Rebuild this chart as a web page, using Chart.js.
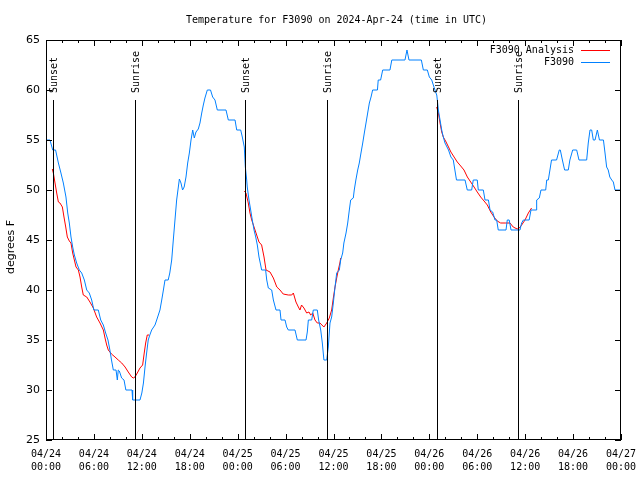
<!DOCTYPE html>
<html>
<head>
<meta charset="utf-8">
<script src="https://cdn.jsdelivr.net/npm/chart.js@4"></script>
<style>
  body { margin: 0; background: #fff; }
  canvas { display: block; }
</style>
</head>
<body>
<canvas id="chart" width="640" height="480"></canvas>
<script>
// --- data (hours since 04/24 00:00 UTC, degrees F) ---
const blueHours = [0,0.5,0.84,1.2,1.55,1.84,2.17,2.5,2.72,2.92,3.13,3.34,3.55,3.84,4.17,4.47,4.8,5.1,5.42,5.72,6.0,6.55,6.85,7.18,7.47,7.76,8.0,8.2,8.43,8.77,8.93,9.05,9.18,9.47,9.77,10.0,10.77,10.85,11.77,12.0,12.2,12.4,12.6,12.8,13.0,13.23,13.65,13.86,14.27,14.49,14.7,14.9,15.3,15.5,15.74,15.94,16.15,16.36,16.57,16.7,16.9,17.1,17.3,17.53,17.74,17.95,18.16,18.37,18.57,18.78,19.07,19.28,19.5,19.7,19.9,20.2,20.6,20.87,21.16,21.45,22.54,22.83,23.67,23.88,24.38,24.58,24.83,24.96,25.13,25.2,25.42,25.63,25.83,26.05,26.26,26.46,26.67,26.88,27.0,27.5,27.64,27.84,28.26,28.47,28.8,29.3,29.43,29.93,30.14,30.34,31.18,31.47,32.56,32.72,32.85,33.27,33.47,33.97,34.14,34.4,34.6,34.8,35.15,35.35,35.56,35.77,35.98,36.19,36.4,36.73,36.9,37.15,37.3,37.57,37.78,37.98,38.15,38.48,38.6,38.8,39.03,39.23,39.44,39.66,39.86,40.07,40.28,40.49,40.7,40.9,41.5,41.6,41.9,42.16,43.07,43.3,44.95,45.2,45.45,47.0,47.25,47.75,48.0,48.3,48.58,48.83,48.93,49.0,49.13,49.34,49.55,49.75,49.96,50.4,50.7,51.0,51.2,51.4,52.47,52.75,53.3,53.5,54.0,54.13,54.76,54.97,55.4,55.6,55.93,56.22,56.43,56.63,57.6,57.76,58.0,58.23,59.35,59.56,59.77,60.5,60.73,61.36,61.44,61.77,61.98,62.57,62.7,62.9,63.1,63.3,63.93,64.27,64.4,64.66,64.94,65.4,65.6,65.95,66.45,66.74,67.7,67.9,68.12,68.33,68.53,68.75,69.04,69.3,69.8,70.0,70.2,70.4,70.6,70.84,71.04,71.25,72];
const blueTemps = [55,55,54,54,52.7,51.8,50.7,49.3,47.7,46.7,45.3,44.3,43.5,42.7,42,41.7,41,40,39.7,39,38,38,37,36.5,35.7,35,34,33,32,32,31,32,31.9,31.2,31,30,30,29,29,29.7,30.7,32.3,33.7,35,35.5,36,36.5,37,38,39,40,41,41,41.7,43,45,47,49,50.3,51.1,50.7,50,50.3,51.3,52.7,53.7,55,56,55.2,55.8,56.1,56.7,57.7,58.5,59.2,60,60,59.3,59,58,58,57,57,56,56,55.3,54.3,52.3,51,50.3,49,48,47,46,45.3,44.5,43.3,42.5,42,42,41,40.2,40,39,38,38,37,37,36.3,36,36,35,35,35.8,37,37,38,38,37,36,34.7,33,33,34.3,36.7,37.3,38.7,40.3,41.7,42,43,43.7,44.7,45.7,46.7,48,49,49.2,50,51,52,52.7,53.7,54.7,55.7,56.7,57.7,58.7,59.3,60,60,61,61,62,62,63,63,64,63,63,62,62,61.3,61,60.3,59.7,59.5,59,58,57,56,55.3,54.7,54,53.3,53,52,51,51,50,50,51,51,50,50,49,49,48,47.8,47,47,46,46,47,47,46,46,46.7,47,47,48,48,49,49.2,50,50,51,51,52,53,53,54,54,53,52,52,53,54,54,53,53,54.7,56,56,55,55,56,55,55,53.7,52.3,52,51.3,51,50.8,50,50];

// analysis series, null marks the gaps between the three night segments
const redHours = [0.79,0.92,1.13,1.34,1.55,1.75,2.05,2.25,2.47,2.67,2.92,3.13,3.34,3.55,3.76,4.05,4.26,4.47,4.67,5.1,5.5,5.93,6.34,6.76,7.18,7.39,7.6,7.8,8.2,8.64,9.05,9.48,9.9,10.3,10.73,10.93,11.14,11.43,11.77,12.1,12.3,12.48,12.68,12.9,
  18,
  24.83,25.04,25.33,25.54,25.76,26.05,26.38,26.67,27.0,27.3,27.55,28.05,28.47,28.9,29.3,29.7,30.34,30.77,30.97,31.3,31.6,31.8,32.0,32.3,32.64,32.93,33.14,33.4,33.68,33.97,34.3,34.8,35.15,35.47,35.77,35.98,36.19,36.4,36.6,36.8,36.9,
  42,
  48.92,49.13,49.34,49.55,49.75,50.1,50.4,50.7,51.1,51.5,51.93,52.34,52.76,53.18,53.6,54.0,54.43,54.85,55.26,55.69,56.1,56.5,56.93,57.5,58.1,58.5,59.0,59.27,59.56,59.98,60.4,60.8];
const redTemps = [52.1,51.7,50.7,49.7,48.8,48.7,48.3,47.3,46.3,45.3,44.9,44.7,43.7,43,42.3,42,41.3,40.3,39.5,39.3,38.8,38.2,37.3,36.7,36,35.2,34.5,34,33.6,33.3,33,32.7,32.3,31.8,31.3,31.2,31.3,31.7,32.2,32.5,33.7,34.7,35.5,35.5,
  null,
  49.9,49.7,48.7,47.7,47,46.3,45.5,44.8,44.5,43.3,42,41.8,41.2,40.3,40,39.6,39.5,39.5,39.7,38.8,38.3,38,38.5,38.2,37.7,37.8,37.5,37.7,37,36.7,36.7,36.3,36.7,37.2,38,39.2,40.3,41.2,42,42.7,43.2,
  null,
  58.3,57.7,56.7,55.8,55.3,54.8,54.3,53.8,53.3,52.8,52.4,52,51.3,50.8,50.3,49.8,49.3,48.9,48.5,47.8,47.3,46.9,46.7,46.7,46.7,46.3,46.1,46.2,46.5,47,47.7,48.2];

const eventHours = [0.92, 11.18, 24.96, 35.23, 49.0, 59.14];
const eventLabels = ['Sunset', 'Sunrise', 'Sunset', 'Sunrise', 'Sunset', 'Sunrise'];
const dayLabels = ['04/24', '04/25', '04/26', '04/27'];
const timeLabels = ['00:00', '06:00', '12:00', '18:00'];
const seriesNames = ['F3090 Analysis', 'F3090'];
const seriesColors = ['#ff0000', '#0080ff'];

const MONO = '10px "DejaVu Sans Mono", "Liberation Mono", monospace';
const SANS = '11px "DejaVu Sans", "Liberation Sans", sans-serif';

// gnuplot-ish frame, inward ticks, sun events, legend and titles
const decorations = {
  id: 'decorations',
  afterDatasetsDraw(chart) {
    const ctx = chart.ctx;
    const { left, right, top, bottom } = chart.chartArea;
    const xs = chart.scales.x, ys = chart.scales.y;
    ctx.save();
    ctx.strokeStyle = '#000';
    ctx.lineWidth = 1;

    // sunset / sunrise markers
    ctx.fillStyle = '#000';
    ctx.font = MONO;
    eventHours.forEach((h, i) => {
      const px = Math.round(xs.getPixelForValue(h)) + 0.5;
      const py = Math.round(ys.getPixelForValue(59));
      ctx.beginPath();
      ctx.moveTo(px, py);
      ctx.lineTo(px, bottom);
      ctx.stroke();
      ctx.save();
      ctx.translate(px + 1, py - 7);
      ctx.rotate(-Math.PI / 2);
      ctx.textAlign = 'left';
      ctx.textBaseline = 'middle';
      ctx.fillText(eventLabels[i], 0, 0);
      ctx.restore();
    });

    // border
    ctx.strokeRect(left + 0.5, top + 0.5, right - left - 1, bottom - top - 1);

    // x ticks: major every 6 h, minor every 2 h, bottom and top
    for (let h = 0; h <= 72; h += 2) {
      const px = Math.round(xs.getPixelForValue(h)) + 0.5;
      const len = h % 6 === 0 ? 6 : 3;
      ctx.beginPath();
      ctx.moveTo(px, bottom); ctx.lineTo(px, bottom - len);
      ctx.moveTo(px, top); ctx.lineTo(px, top + len);
      ctx.stroke();
    }
    // y ticks every 5 F, left and right
    for (let v = 25; v <= 65; v += 5) {
      const py = Math.round(ys.getPixelForValue(v)) + 0.5;
      ctx.beginPath();
      ctx.moveTo(left, py); ctx.lineTo(left + 6, py);
      ctx.moveTo(right, py); ctx.lineTo(right - 6, py);
      ctx.stroke();
    }

    // legend, top right inside the plot
    ctx.font = MONO;
    ctx.textAlign = 'right';
    ctx.textBaseline = 'middle';
    seriesNames.forEach((name, i) => {
      const ly = top + 10 + i * 12;
      ctx.fillStyle = '#000';
      ctx.fillText(name, right - 47, ly);
      ctx.strokeStyle = seriesColors[i];
      ctx.beginPath();
      ctx.moveTo(right - 40, ly + 0.5);
      ctx.lineTo(right - 11, ly + 0.5);
      ctx.stroke();
    });

    // title and y label
    ctx.fillStyle = '#000';
    ctx.textAlign = 'center';
    ctx.fillText('Temperature for F3090 on 2024-Apr-24 (time in UTC)', (left + right) / 2 + 3, 20);
    ctx.font = SANS;
    ctx.save();
    ctx.translate(11, (top + bottom) / 2 + 7);
    ctx.rotate(-Math.PI / 2);
    ctx.fillText('degrees F', 0, 0);
    ctx.restore();
    ctx.restore();
  }
};

new Chart(document.getElementById('chart'), {
  type: 'line',
  data: {
    datasets: [
      {
        label: seriesNames[1],
        data: blueHours.map((h, i) => ({ x: h, y: blueTemps[i] })),
        borderColor: seriesColors[1],
        borderWidth: 1,
        pointRadius: 0,
        tension: 0,
        order: 0
      },
      {
        label: seriesNames[0],
        data: redHours.map((h, i) => ({ x: h, y: redTemps[i] })),
        borderColor: seriesColors[0],
        borderWidth: 1,
        pointRadius: 0,
        tension: 0,
        spanGaps: false,
        order: 1
      }
    ]
  },
  options: {
    responsive: false,
    animation: false,
    layout: { padding: { left: 0, right: 19, top: 40, bottom: 0 } },
    plugins: {
      legend: { display: false },
      title: { display: false },
      tooltip: { enabled: false }
    },
    scales: {
      x: {
        type: 'linear',
        min: 0,
        max: 72,
        grid: { display: false, drawTicks: false },
        border: { display: false },
        afterFit: (s) => { s.height = 40; s.paddingLeft = 0; s.paddingRight = 0; },
        ticks: {
          stepSize: 6,
          autoSkip: false,
          maxRotation: 0,
          padding: 8,
          color: '#000',
          font: { family: '"DejaVu Sans Mono", monospace', size: 10, lineHeight: 1.3 },
          callback: (v) => [dayLabels[Math.floor(v / 24)], timeLabels[(v % 24) / 6]]
        }
      },
      y: {
        min: 25,
        max: 65,
        grid: { display: false, drawTicks: false },
        border: { display: false },
        afterFit: (s) => { s.width = 46; s.paddingTop = 0; s.paddingBottom = 0; },
        ticks: {
          stepSize: 5,
          padding: 6,
          color: '#000',
          font: { family: '"DejaVu Sans", "Liberation Sans", sans-serif', size: 11 }
        }
      }
    }
  },
  plugins: [decorations]
});
</script>
</body>
</html>
